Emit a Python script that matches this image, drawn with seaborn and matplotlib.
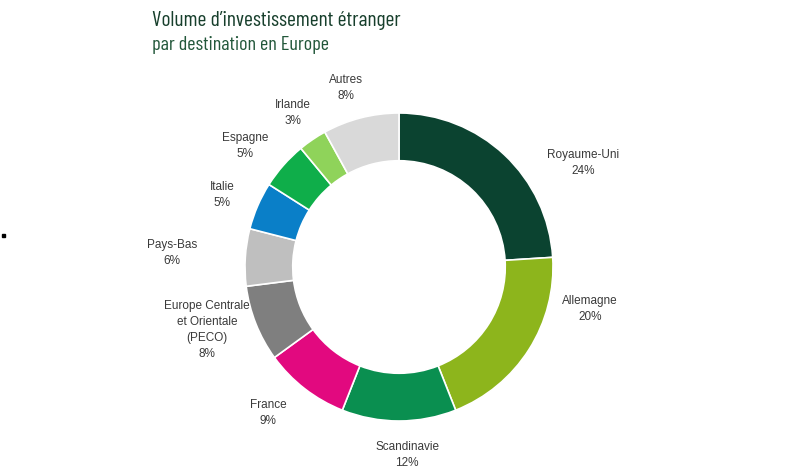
import matplotlib
matplotlib.use("Agg")
import matplotlib.pyplot as plt
import seaborn as sns

sns.set_theme(style="white")
plt.rcParams['font.family'] = ['Liberation Sans', 'DejaVu Sans']

categories = ["Royaume-Uni", "Allemagne", "Scandinavie", "France",
              "Europe Centrale\net Orientale\n(PECO)", "Pays-Bas", "Italie",
              "Espagne", "Irlande", "Autres"]
values = [24, 20, 12, 9, 8, 6, 5, 5, 3, 8]
colors = ["#0b4330", "#8db51c", "#0a8f50", "#e2097f", "#7f7f7f",
          "#bfbfbf", "#0a7fc8", "#0fae4a", "#8fd35a", "#d9d9d9"]
# label anchor positions in pixels (x, y from top)
label_px = [(583, 163), (590, 309), (407, 455), (268, 413), (207, 330),
            (172, 253), (222, 195), (245, 146), (293, 113), (346, 88)]

W, H = 800, 476
CX, CY, R = 399, 267, 154

fig = plt.figure(figsize=(W / 100, H / 100), dpi=100)
ax = fig.add_axes([0, 0, 1, 1])
ax.pie(values, colors=colors, startangle=90, counterclock=False,
       radius=1.0, wedgeprops=dict(width=0.31, edgecolor="white", linewidth=1.2))
ax.set_xlim(-CX / R, (W - CX) / R)
ax.set_ylim(-(H - CY) / R, CY / R)
ax.set_aspect("auto")
ax.axis("off")

for cat, val, (px, py) in zip(categories, values, label_px):
    ax.text((px - CX) / R, (CY - py) / R, f"{cat}\n{val}%", ha="center",
            va="center", fontsize=8.5, color="#3a3a3a", linespacing=1.45)

fig.text(152 / W, 1 - 20 / H, "Volume d\u2019investissement étranger",
         fontsize=15.5, color="#173f2c", ha="left", va="center",
         family=['Barlow Condensed', 'DejaVu Sans'])
fig.text(152 / W, 1 - 45 / H, "par destination en Europe",
         fontsize=14.5, color="#22573a", ha="left", va="center",
         family=['Barlow Condensed', 'DejaVu Sans'])

fig.patches.append(plt.Rectangle((2 / W, 1 - 237 / H), 3 / W, 3 / H,
                                 transform=fig.transFigure, color="black"))

fig.savefig("out.png", dpi=100)
